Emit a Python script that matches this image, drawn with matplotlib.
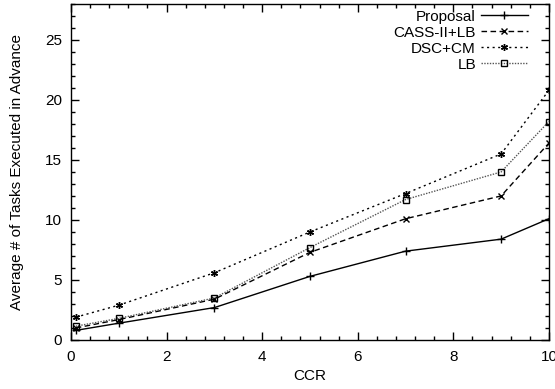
import matplotlib
matplotlib.use("Agg")
import matplotlib.pyplot as plt
from matplotlib.ticker import MultipleLocator

plt.rcParams['font.family'] = ['Liberation Sans', 'DejaVu Sans']
plt.rcParams['font.size'] = 11

# CCR values and averages
ccr = [0.1, 1, 3, 5, 7, 9, 10]
proposal = [0.8, 1.4, 2.7, 5.3, 7.4, 8.4, 10.1]
cass_lb = [1.0, 1.7, 3.4, 7.3, 10.1, 12.0, 16.4]
dsc_cm = [1.9, 2.9, 5.6, 9.0, 12.2, 15.5, 20.8]
lb = [1.15, 1.8, 3.5, 7.7, 11.7, 14.0, 18.2]

fig = plt.figure(figsize=(5.55, 3.89), dpi=100)
ax = fig.add_axes([0.128, 0.126, 0.861, 0.864])

ax.plot(ccr, proposal, color='black', lw=1, ls='-', marker='+', ms=6, mew=1,
        label='Proposal')
ax.plot(ccr, cass_lb, color='black', lw=1, ls=(0, (4, 2.5)), marker='x', ms=5, mew=1,
        label='CASS-II+LB')
ax.plot(ccr, dsc_cm, color='black', lw=1, ls=(0, (1.5, 2.5)), marker=(6, 2, 0), ms=5, mew=1,
        label='DSC+CM')
ax.plot(ccr, lb, color='#555555', lw=1, ls=(0, (1, 1)), marker='s', ms=5, mew=1,
        mfc='none', mec='black', label='LB')

ax.set_xlim(0, 10)
ax.set_ylim(0, 28)
ax.xaxis.set_major_locator(MultipleLocator(2))
ax.xaxis.set_minor_locator(MultipleLocator(0.4))
ax.yaxis.set_major_locator(MultipleLocator(5))
ax.yaxis.set_minor_locator(MultipleLocator(1))
ax.tick_params(which='both', direction='in', top=True, right=True, width=1)
ax.tick_params(which='major', length=6)
ax.tick_params(which='minor', length=3)
ax.tick_params(axis='x', which='major', pad=7)
ax.tick_params(axis='y', which='major', pad=6.5)
for s in ax.spines.values():
    s.set_linewidth(1)

ax.set_xlabel('CCR', labelpad=4)
ax.set_ylabel('Average # of Tasks Executed in Advance', labelpad=15)

ax.legend(loc='upper right', bbox_to_anchor=(0.956, 0.983), markerfirst=False,
          frameon=False, handlelength=3.1, handletextpad=0.3, labelspacing=0.13,
          borderaxespad=0, borderpad=0, fontsize=11)

fig.savefig('out.png', dpi=100)
